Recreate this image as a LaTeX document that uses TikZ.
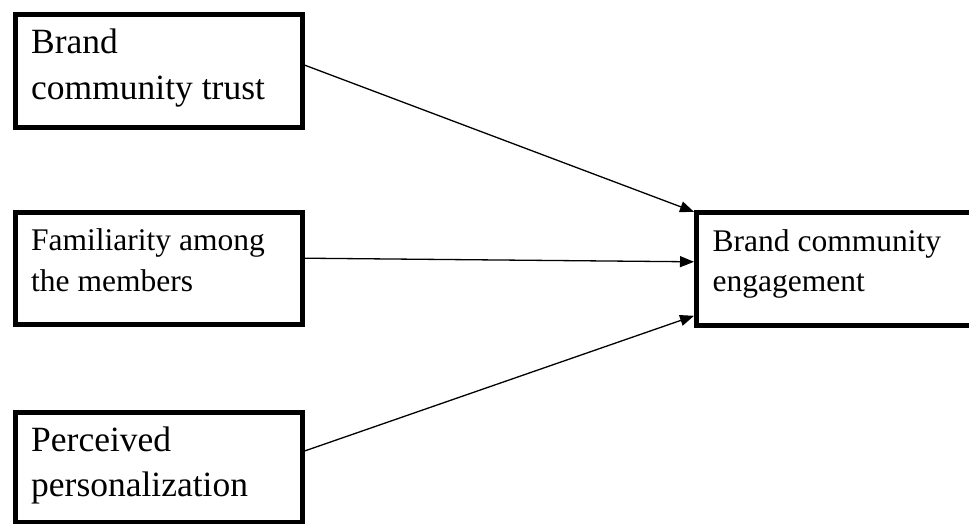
\documentclass[tikz,border=0pt]{standalone}
\usepackage{fontspec}
\setmainfont{Liberation Serif}
\usetikzlibrary{arrows.meta}
\begin{document}
\begin{tikzpicture}[x=1pt,y=-1pt,
  box/.style={draw=black,line width=5pt,minimum width=#1,anchor=north west,inner sep=0pt,fill=white},
  bigtxt/.style={anchor=base west,inner sep=0pt,align=left,font=\fontsize{35.5}{46}\selectfont},
  smalltxt/.style={anchor=base west,inner sep=0pt,align=left,font=\fontsize{31.5}{41.5}\selectfont},
  link/.style={line width=1.3pt,-{Triangle[length=14pt,width=11pt]}}]
\useasboundingbox (0,0) rectangle (969,523);
\node[box=287.5pt,minimum height=112.5pt] (b1) at (12.5,12) {};
\node[box=287.5pt,minimum height=112pt] (b2) at (12.5,210) {};
\node[box=287.5pt,minimum height=109.5pt] (b3) at (12.5,410) {};
\node[box=300pt,minimum height=113pt] (b4) at (694,209.5) {};
\node[bigtxt] (t1) at (31,99.5) {Brand\\community trust};
\node[smalltxt] (t2) at (31,291.7) {Familiarity among\\the members};
\node[bigtxt,font=\fontsize{35.5}{45}\selectfont] (t3) at (31,496.7) {Perceived\\personalization};
\node[smalltxt,font=\fontsize{31.5}{40}\selectfont] (t4) at (712.5,291.7) {Brand community\\engagement};
\draw[link] ([yshift=5.5pt]b1.east) -- ([yshift=56.7pt]b4.west);
\draw[link] ([yshift=10.3pt]b2.east) -- ([yshift=6.7pt]b4.west);
\draw[link] ([yshift=16.4pt]b3.east) -- ([yshift=-47.3pt]b4.west);
\end{tikzpicture}
\end{document}
